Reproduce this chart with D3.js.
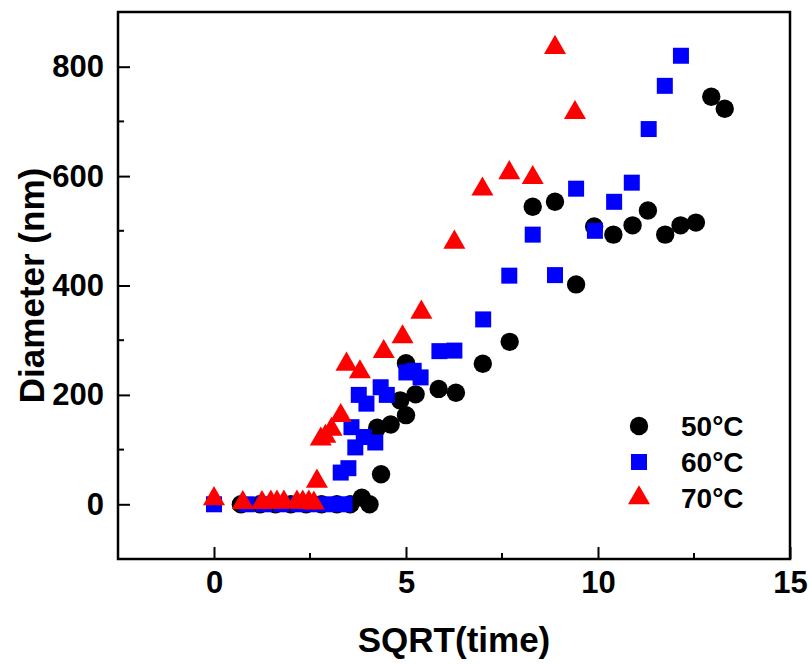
<!DOCTYPE html>
<html>
<head>
<meta charset="utf-8">
<script src="https://cdn.jsdelivr.net/npm/d3@7"></script>
<style>
  body { margin: 0; background: #fff; }
  text { font-family: "Liberation Sans", Arial, sans-serif; font-weight: bold; fill: #000; }
</style>
</head>
<body>
<div id="chart"></div>
<script>
// ---------------- data ----------------
// [sqrt(time), diameter nm]
const series50 = [
  [0.7, 0], [1.2, 0], [1.6, 0], [2.0, 0], [2.4, 0], [2.8, 0], [3.2, 0], [3.55, 0],
  [3.85, 12], [4.05, 0], [4.35, 55], [4.25, 140], [4.6, 146], [4.85, 190], [5.0, 163],
  [5.25, 201], [5.0, 258], [5.85, 211], [6.3, 204], [7.0, 257], [7.7, 297],
  [8.3, 544], [8.88, 553], [9.43, 402], [9.9, 508], [10.4, 493], [10.9, 510],
  [11.3, 537], [11.75, 493], [12.15, 510], [12.55, 515], [12.95, 745], [13.3, 723]
];
const series60 = [
  [0, 0], [0.85, 0], [1.3, 0], [1.75, 0], [2.2, 0], [2.6, 0], [3.0, 0], [3.4, 0],
  [3.3, 58], [3.5, 66], [3.58, 141], [3.68, 104], [3.9, 123], [4.2, 113],
  [3.77, 200], [3.97, 184], [4.34, 214], [4.5, 200], [5.01, 241], [5.2, 244], [5.38, 232],
  [5.87, 280], [6.26, 281], [7.01, 338], [7.69, 418], [8.3, 493], [8.88, 419],
  [9.43, 577], [9.92, 500], [10.42, 553], [10.88, 588], [11.32, 686], [11.74, 765], [12.16, 820]
];
const series70 = [
  [0, 10], [0.75, 3], [1.25, 3], [1.48, 4], [1.64, 4], [1.82, 4], [2.16, 4], [2.31, 4],
  [2.47, 4], [2.6, 2], [2.68, 42], [2.78, 119], [2.9, 124], [3.06, 137], [3.3, 162],
  [3.45, 256], [3.8, 242], [4.42, 279], [4.91, 306], [5.4, 351], [6.26, 479],
  [6.99, 576], [7.69, 606], [8.3, 597], [8.88, 835], [9.4, 716]
];
const seriesNames = ["50°C", "60°C", "70°C"];
const xTicks = [0, 5, 10, 15];
const xMinor = [2.5, 7.5, 12.5];
const yTicks = [0, 200, 400, 600, 800];
const yMinor = [-100, 100, 300, 500, 700];

////////////////////////////  Init  ///////////////////////////////
const width = 809, height = 664;
const margin = { left: 118, right: 19, top: 12, bottom: 105 };

const svg = d3.select("#chart").append("svg")
  .attr("width", width).attr("height", height);

const x = d3.scaleLinear().domain([-2.5, 15]).range([margin.left, width - margin.right]);
const y = d3.scaleLinear().domain([-100, 900]).range([height - margin.bottom, margin.top]);

const colors = ["#000000", "#0000ff", "#ff0000"];
const symbols = [
  d3.symbol().type(d3.symbolCircle).size(Math.PI * 9.2 * 9.2),
  d3.symbol().type(d3.symbolSquare).size(16 * 16),
  d3.symbol().type(d3.symbolTriangle).size(210)
];

////////////////////////////  Axes  ///////////////////////////////
const xAxis = d3.axisBottom(x).tickValues(xTicks).tickSize(-12).tickPadding(12).tickSizeOuter(0);
const yAxis = d3.axisLeft(y).tickValues(yTicks).tickSize(-12).tickPadding(14).tickSizeOuter(0);

const gx = svg.append("g").attr("transform", `translate(0,${y.range()[0]})`).call(xAxis);
const gy = svg.append("g").attr("transform", `translate(${x.range()[0]},0)`).call(yAxis);

// minor ticks
svg.append("g").selectAll("line").data(xMinor).join("line")
  .attr("x1", d => x(d)).attr("x2", d => x(d))
  .attr("y1", y.range()[0]).attr("y2", y.range()[0] - 6)
  .attr("stroke", "#000").attr("stroke-width", 2);
svg.append("g").selectAll("line").data(yMinor).join("line")
  .attr("x1", x.range()[0]).attr("x2", x.range()[0] + 6)
  .attr("y1", d => y(d)).attr("y2", d => y(d))
  .attr("stroke", "#000").attr("stroke-width", 2);

[gx, gy].forEach(g => {
  g.select(".domain").remove();
  g.selectAll(".tick line").attr("stroke", "#000").attr("stroke-width", 2);
  g.selectAll(".tick text").style("font-size", "31px").style("font-weight", "bold")
    .style("font-family", '"Liberation Sans", Arial, sans-serif').attr("fill", "#000");
});

// frame
svg.append("rect")
  .attr("x", x.range()[0]).attr("y", y.range()[1])
  .attr("width", x.range()[1] - x.range()[0])
  .attr("height", y.range()[0] - y.range()[1])
  .attr("fill", "none").attr("stroke", "#000").attr("stroke-width", 2.5);

// axis titles
svg.append("text")
  .attr("x", (x.range()[0] + x.range()[1]) / 2).attr("y", 652)
  .attr("text-anchor", "middle").style("font-size", "35px")
  .text("SQRT(time)");
svg.append("text")
  .attr("transform", `translate(44,${(y.range()[0] + y.range()[1]) / 2}) rotate(-90)`)
  .attr("text-anchor", "middle").style("font-size", "35px")
  .text("Diameter (nm)");

////////////////////////////  Points  /////////////////////////////
const plot = svg.append("g");
[series50, series60, series70].forEach((s, i) => {
  plot.append("g").selectAll("path").data(s).join("path")
    .attr("d", symbols[i])
    .attr("transform", d => `translate(${x(d[0])},${y(d[1])})`)
    .attr("fill", colors[i]);
});

////////////////////////////  Legend  /////////////////////////////
const legend = svg.append("g").attr("transform", "translate(639,426)");
seriesNames.forEach((name, i) => {
  const row = legend.append("g").attr("transform", `translate(0,${i * 36})`);
  row.append("path").attr("d", symbols[i]).attr("fill", colors[i]);
  row.append("text").attr("x", 42).attr("y", 9.5)
    .style("font-size", "28px").text(name);
});
</script>
</body>
</html>
